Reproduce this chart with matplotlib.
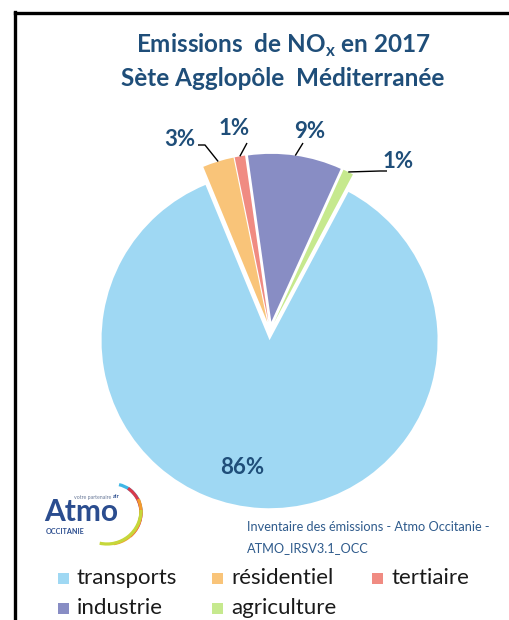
import numpy as np
import matplotlib
matplotlib.use("Agg")
import matplotlib.pyplot as plt
from matplotlib.patches import Arc, Rectangle
from matplotlib.lines import Line2D

plt.rcParams['font.family'] = ['Lato', 'DejaVu Sans']
plt.rcParams['mathtext.fontset'] = 'custom'
plt.rcParams['mathtext.rm'] = 'Lato'
plt.rcParams['mathtext.bf'] = 'Lato:bold'

# Emission shares by sector (%)
sectors = ["transports", "résidentiel", "tertiaire", "industrie", "agriculture"]
shares = [86, 3, 1, 9, 1]
colors = ["#9FD8F3", "#F9C479", "#F08B82", "#888DC4", "#C6E98E"]
labels = [f"{v}%" for v in shares]

W, H = 510, 620
fig = plt.figure(figsize=(W / 100, H / 100), dpi=100)
ax = fig.add_axes([0, 0, 1, 1])

R_PX = 168.0
CX, CY = 270.0, 331.0


def px(x, y):
    """Pixel position (from top-left) to pie data coordinates."""
    return (x - CX) / R_PX, (CY - y) / R_PX


explode = [0.055] * len(shares)
wedges, _ = ax.pie(shares, colors=colors, startangle=62, counterclock=False,
                   explode=explode, radius=1.0,
                   wedgeprops=dict(linewidth=0))
ax.set_xlim(-CX / R_PX, (W - CX) / R_PX)
ax.set_ylim(-(H - CY) / R_PX, CY / R_PX)
ax.set_aspect("auto")
ax.axis("off")

lab_color = "#1F4E79"
lab_kw = dict(fontsize=16, fontweight="bold", color=lab_color,
              ha="center", va="center")

# value labels: position, leader-line elbow (pixels)
label_layout = {
    0: ((242, 467), None),
    1: ((180, 140), (205, 145)),
    2: ((234, 128), (247, 143)),
    3: ((310, 131), (303, 143)),
    4: ((398, 162), (380, 171)),
}
for i, w in enumerate(wedges):
    (lx, ly), elbow = label_layout[i]
    tx, ty = px(lx, ly)
    ax.text(tx, ty, labels[i], **lab_kw)
    if elbow is None:
        continue
    mid = np.deg2rad((w.theta1 + w.theta2) / 2)
    cx, cy = w.center
    ex, ey = cx + w.r * np.cos(mid), cy + w.r * np.sin(mid)
    bx, by = px(*elbow)
    if i == 1:
        xs, ys = [px(198, 145)[0], bx, ex], [by, by, ey]
    elif i == 4:
        xs, ys = [px(387, 171)[0], bx, ex], [by, by, ey]
    else:
        xs, ys = [bx, ex], [by, ey]
    ax.add_line(Line2D(xs, ys, color="black", lw=1.0, solid_capstyle="butt"))

# title
fig.text(283 / W, 1 - 45 / H, r"Emissions  de NO$_{\mathbf{x}}$ en 2017",
         ha="center", va="center", fontsize=17.5, fontweight="bold", color=lab_color)
fig.text(283 / W, 1 - 78 / H, "Sète Agglopôle  Méditerranée",
         ha="center", va="center", fontsize=17.5, fontweight="bold", color=lab_color)

# source note
src_color = "#2F5B8C"
fig.text(247 / W, 1 - 527 / H, "Inventaire des émissions - Atmo Occitanie -",
         ha="left", va="center", fontsize=9.2, color=src_color)
fig.text(247 / W, 1 - 548 / H, "ATMO_IRSV3.1_OCC",
         ha="left", va="center", fontsize=9.2, color=src_color)

# logo
logo_blue = "#2B4D8F"
fig.text(44 / W, 1 - 521 / H, "Atmo", ha="left", va="baseline", fontsize=21.5,
         fontweight="bold", color=logo_blue)
fig.text(46 / W, 1 - 528 / H, "OCCITANIE", ha="left", va="top", fontsize=5.2,
         fontweight="bold", color=logo_blue)
fig.text(111 / W, 1 - 497 / H, "votre partenaire", ha="right", va="center",
         fontsize=3.8, color="#6A7A99")
fig.text(112.5 / W, 1 - 497 / H, "air", ha="left", va="center",
         fontsize=4.2, fontweight="bold", color=logo_blue)
arc_specs = [("#3FB7E6", (113, 512), 28, 75, -15),
             ("#D83A4B", (111, 513), 30, 50, -45),
             ("#F29B2E", (109, 512), 32, 20, -80),
             ("#C6D73A", (107, 510), 34, 0, -105)]
for col, (cxp, cyp), r, a1, a2 in arc_specs:
    arc = Arc((cxp / W, 1 - cyp / H), 2 * r / W, 2 * r / H, theta1=a2, theta2=a1,
              transform=fig.transFigure, color=col, lw=2.3)
    fig.add_artist(arc)

# legend
leg_pos = [(58, 578), (212, 578), (372, 578), (58, 608), (212, 608)]
for (x, y), name, col in zip(leg_pos, sectors, colors):
    fig.add_artist(Rectangle((x / W, 1 - (y + 6) / H), 11 / W, 11 / H,
                             transform=fig.transFigure, color=col, lw=0))
    fig.text((x + 19) / W, 1 - y / H, name, ha="left", va="center",
             fontsize=16, color="#1a1a1a")

# frame (left and top edges)
fig.add_artist(Line2D([15.5 / W, 15.5 / W], [0, 1 - 12 / H], color="black", lw=2.4,
                      transform=fig.transFigure, solid_capstyle="projecting"))
fig.add_artist(Line2D([15.5 / W, 1], [1 - 13 / H, 1 - 13 / H], color="black", lw=2.4,
                      transform=fig.transFigure, solid_capstyle="projecting"))

fig.savefig("out.png", dpi=100)
